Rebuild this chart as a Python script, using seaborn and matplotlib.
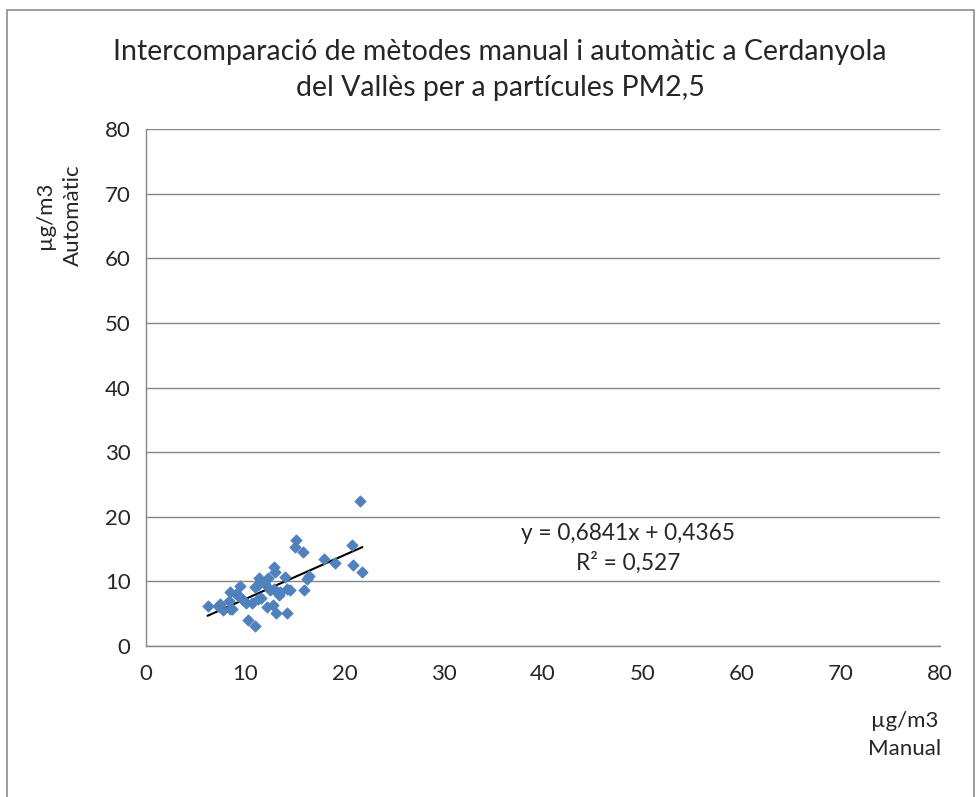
import matplotlib
matplotlib.use("Agg")
import matplotlib.pyplot as plt
import seaborn as sns
import pandas as pd
from matplotlib.patches import Rectangle

manual = [21.56, 15.1, 15.0, 15.85, 20.8, 17.9, 19.0, 20.9, 21.8, 12.9, 13.0, 16.45,
          16.25, 14.0, 12.3, 11.4, 11.3, 11.0, 12.9, 12.5, 14.2, 14.5, 15.95, 9.5,
          8.5, 9.1, 9.5, 9.8, 10.1, 10.65, 11.3, 13.4, 6.2, 7.3, 7.5, 7.8, 8.4, 8.5,
          8.7, 12.2, 12.8, 13.1, 14.2, 10.3, 11.0, 11.6, 12.0, 13.5]
automatic = [22.4, 16.4, 15.3, 14.5, 15.6, 13.4, 12.9, 12.5, 11.5, 12.3, 11.4, 10.8,
             10.3, 10.6, 10.5, 10.5, 9.4, 9.1, 8.8, 8.7, 8.8, 8.7, 8.7, 9.3,
             8.3, 8.0, 7.6, 7.1, 6.7, 6.7, 7.2, 7.9, 6.2, 6.2, 6.5, 5.6, 6.9, 5.8,
             5.7, 6.0, 6.3, 5.1, 5.1, 4.0, 3.1, 7.4, 9.6, 8.3]
equation = "y = 0,6841x + 0,4365"
r2 = "R² = 0,527"
ticks = [0, 10, 20, 30, 40, 50, 60, 70, 80]
title = "Intercomparació de mètodes manual i automàtic a Cerdanyola\ndel Vallès per a partícules PM2,5"

df = pd.DataFrame({"Manual": manual, "Automatic": automatic})

sns.set_style("white")
plt.rcParams['font.family'] = ['Lato', 'DejaVu Sans']

fig = plt.figure(figsize=(9.76, 7.97), dpi=100)
fig.patches.append(Rectangle((7/976, -0.01), 967/976, 1 - 10/797 + 0.01, transform=fig.transFigure,
                             fill=False, edgecolor="#8c8c8c", linewidth=1.2))
ax = fig.add_axes([146/976, 1 - 646/797, 794/976, 517/797])

sns.regplot(data=df, x="Manual", y="Automatic", ax=ax, scatter=False, ci=None,
            truncate=True, line_kws=dict(color="black", linewidth=1.5))
sns.scatterplot(data=df, x="Manual", y="Automatic", ax=ax, marker="D", s=34,
                color="#4F81BD", edgecolor="#4F81BD", linewidth=0.5, zorder=3)

ax.set_xlim(0, 80)
ax.set_ylim(0, 80)
ax.set_xticks(ticks)
ax.set_yticks(ticks)
ax.tick_params(axis="both", labelsize=16, length=5, width=1, color="#868686",
               direction="out", pad=6)
ax.tick_params(axis="x", pad=8)
ax.yaxis.grid(True, color="#868686", linewidth=1)
ax.set_axisbelow(True)
for s in ["top", "right"]:
    ax.spines[s].set_visible(False)
for s in ["left", "bottom"]:
    ax.spines[s].set_color("#868686")
    ax.spines[s].set_linewidth(1)
ax.set_xlabel("")
ax.set_ylabel("")

fig.text(500/976, 1 - 70/797, title, ha="center", va="center", fontsize=20.5,
         linespacing=1.5)
fig.text(59/976, 1 - 215/797, "µg/m3\nAutomàtic", rotation=90, ha="center",
         va="center", fontsize=16, linespacing=1.45)
fig.text(905/976, 1 - 735/797, "µg/m3\nManual", ha="center", va="center",
         fontsize=16, linespacing=1.5)
fig.text(628/976, 1 - 533/797, equation, ha="center", va="center", fontsize=16.3)
fig.text(628/976, 1 - 563/797, r2, ha="center", va="center", fontsize=16.3)

fig.savefig("out.png", dpi=100, facecolor="white")
